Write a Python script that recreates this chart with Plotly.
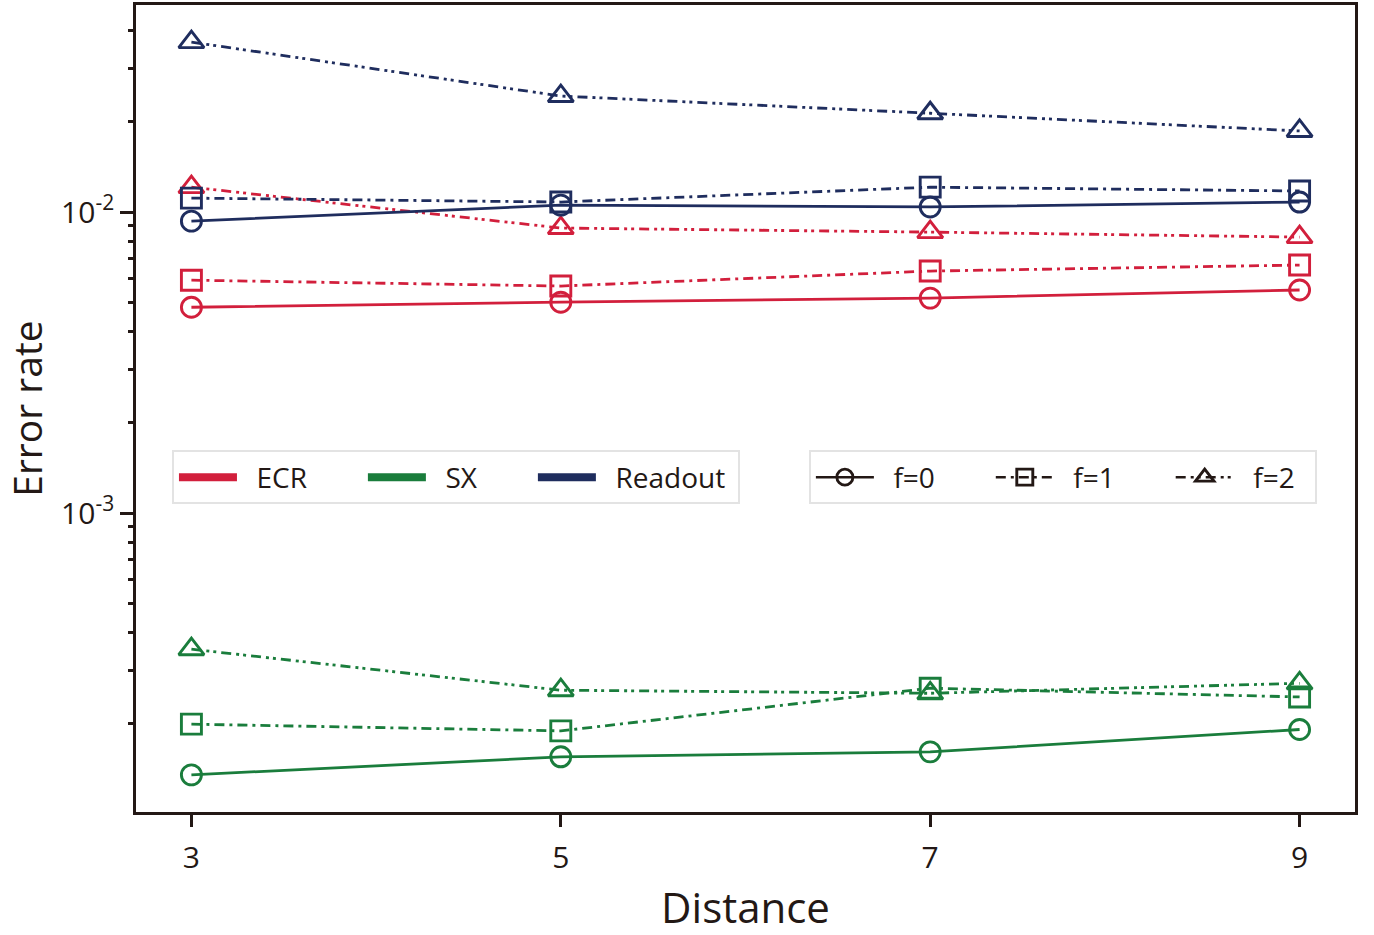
import plotly.graph_objects as go

# Code distances on the x axis
distance = [3, 5, 7, 9]

# Logical error rates per error source and flag count f
ecr_f0 = [0.00483, 0.00502, 0.00518, 0.00551]
ecr_f1 = [0.00594, 0.00568, 0.00637, 0.00667]
ecr_f2 = [0.0121, 0.00885, 0.00858, 0.00826]

sx_f0 = [0.000135, 0.000155, 0.000161, 0.000191]
sx_f1 = [0.000199, 0.000189, 0.000262, 0.000245]
sx_f2 = [0.000353, 0.000258, 0.000252, 0.000272]

readout_f0 = [0.00933, 0.01055, 0.0104, 0.0108]
readout_f1 = [0.01113, 0.0108, 0.0121, 0.01175]
readout_f2 = [0.0367, 0.0243, 0.0213, 0.0186]

sources = ["ECR", "SX", "Readout"]
source_colors = {"ECR": "#D21F3C", "SX": "#1A7D3C", "Readout": "#1F2D5E"}
series = {
    "ECR": [ecr_f0, ecr_f1, ecr_f2],
    "SX": [sx_f0, sx_f1, sx_f2],
    "Readout": [readout_f0, readout_f1, readout_f2],
}
flag_labels = ["f=0", "f=1", "f=2"]
flag_symbols = ["circle-open", "square-open", "triangle-up-open"]
flag_dashes = ["solid", "10px,5px,3px,5px", "10px,5px,3px,4px,3px,5px"]
flag_sizes = [20, 20, 22]

INK = "#231815"
FONT = "Open Sans"
NB = "\u00a0"

fig = go.Figure()

for src in sources:
    for k in range(3):
        fig.add_trace(go.Scatter(
            x=distance, y=series[src][k],
            mode="lines+markers",
            line=dict(color=source_colors[src], width=2.8, dash=flag_dashes[k]),
            marker=dict(symbol=flag_symbols[k], size=flag_sizes[k],
                        color=source_colors[src],
                        line=dict(color=source_colors[src], width=2.9)),
            showlegend=False,
        ))


def key_label(text, last, tail=1):
    # pad legend text so entries sit apart like a column-spaced legend
    return NB * 2 + text + (NB * tail if last else NB * 7)


# Legend keys: error sources (colour)
for i, src in enumerate(sources):
    fig.add_trace(go.Scatter(
        x=[None], y=[None], mode="lines",
        name=key_label(src, i == len(sources) - 1),
        line=dict(color=source_colors[src], width=8),
        legend="legend",
    ))

# Legend keys: flag count (line style + marker)
for k in range(3):
    fig.add_trace(go.Scatter(
        x=[None], y=[None], mode="lines+markers",
        name=key_label(flag_labels[k], k == 2, tail=2),
        line=dict(color=INK, width=2.5, dash=flag_dashes[k]),
        marker=dict(symbol=flag_symbols[k], size=flag_sizes[k], color=INK,
                    line=dict(color=INK, width=2.9)),
        legend="legend2",
    ))

# Minor log ticks drawn on an overlaid, label-free axis
minor_vals = ([m * 1e-4 for m in range(2, 10)] + [m * 1e-3 for m in range(2, 10)]
              + [m * 1e-2 for m in range(2, 5)])
fig.add_trace(go.Scatter(x=[None], y=[None], yaxis="y2", showlegend=False,
                         hoverinfo="skip"))

legend_style = dict(
    orientation="h",
    bgcolor="white",
    bordercolor="#E3E3E3",
    borderwidth=2,
    font=dict(family=FONT, size=28, color=INK),
    itemwidth=58,
    yanchor="top",
    valign="middle",
    xanchor="left",
)

y_range = [-3.993, -1.312]

fig.update_layout(
    width=1374, height=935,
    margin=dict(l=136, r=19, t=5, b=123, autoexpand=False),
    paper_bgcolor="white",
    plot_bgcolor="white",
    font=dict(family=FONT, color=INK),
    xaxis=dict(
        range=[2.7, 9.3],
        automargin=False,
        tickvals=distance,
        ticks="outside", ticklen=12, tickwidth=2.5, tickcolor=INK,
        ticklabelstandoff=5,
        showgrid=False, zeroline=False,
        showline=True, linewidth=2.6, linecolor=INK, mirror=True,
        tickfont=dict(family=FONT, size=30, color=INK),
        title=dict(text="Distance", font=dict(family=FONT, size=42, color=INK),
                   standoff=29),
    ),
    yaxis=dict(
        type="log",
        range=y_range,
        automargin=False,
        tickvals=[1e-3, 1e-2],
        ticktext=["10<sup>-3</sup>", "10<sup>-2</sup>"],
        ticks="outside", ticklen=13, tickwidth=2.5, tickcolor=INK,
        showgrid=False, zeroline=False,
        showline=True, linewidth=2.6, linecolor=INK, mirror=True,
        tickfont=dict(family=FONT, size=30, color=INK),
        title=dict(text="Error rate", font=dict(family=FONT, size=39, color=INK),
                   standoff=14),
    ),
    yaxis2=dict(
        type="log",
        range=y_range,
        automargin=False,
        overlaying="y", side="left", anchor="x",
        tickvals=minor_vals,
        showticklabels=False,
        ticks="outside", ticklen=7, tickwidth=2.5, tickcolor=INK,
        showgrid=False, zeroline=False, showline=False,
    ),
    legend=dict(x=0.0295, y=0.448, **legend_style),
    legend2=dict(x=0.552, y=0.448, **legend_style),
)

fig.write_html("out.html")
